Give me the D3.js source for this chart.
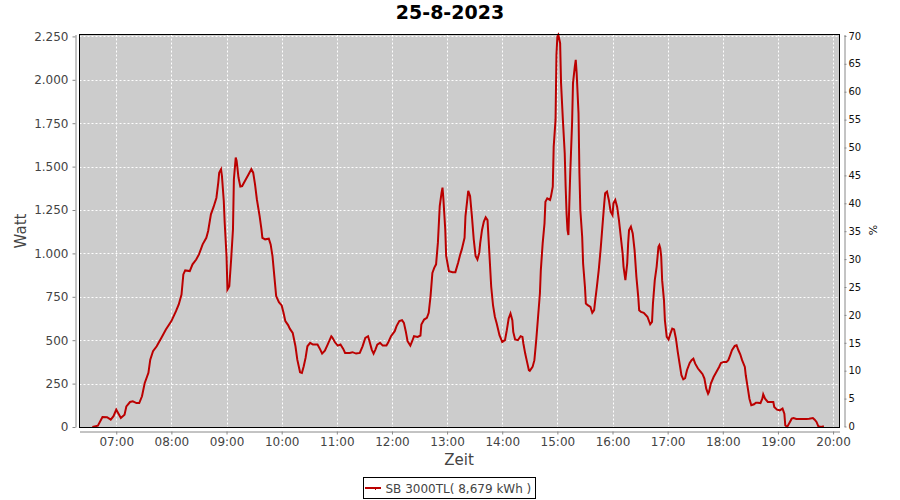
<!DOCTYPE html>
<html><head><meta charset="utf-8">
<script src="https://cdn.jsdelivr.net/npm/d3@7"></script>
<style>body{margin:0;background:#fff}svg{display:block;font-family:"DejaVu Sans",sans-serif}</style>
</head><body><svg id="c" width="900" height="500"></svg>
<script>
const title = "25-8-2023";
const seriesName = "SB 3000TL( 8,679 kWh )";
const times = ["06:34","06:40","06:45","06:50","06:54","06:57","07:00","07:02","07:05","07:09","07:11","07:15","07:18","07:22","07:25","07:28","07:31","07:35","07:37","07:40","07:44","07:49","07:54","08:00","08:05","08:08","08:11","08:13","08:15","08:20","08:23","08:27","08:30","08:34","08:38","08:40","08:43","08:46","08:49","08:51","08:52","08:54","08:55","08:57","08:58","09:00","09:01","09:03","09:05","09:07","09:08","09:10","09:11","09:13","09:15","09:17","09:20","09:23","09:27","09:29","09:31","09:33","09:36","09:38","09:39","09:42","09:46","09:48","09:50","09:52","09:54","09:57","10:00","10:02","10:04","10:07","10:09","10:12","10:15","10:17","10:20","10:22","10:24","10:26","10:28","10:31","10:34","10:36","10:39","10:42","10:44","10:47","10:50","10:54","10:55","10:58","11:01","11:04","11:07","11:09","11:14","11:17","11:21","11:25","11:28","11:31","11:34","11:36","11:38","11:40","11:42","11:44","11:47","11:50","11:54","11:56","11:59","12:03","12:05","12:08","12:11","12:13","12:15","12:17","12:20","12:22","12:24","12:28","12:31","12:32","12:35","12:38","12:40","12:42","12:44","12:46","12:48","12:50","12:52","12:54","12:55","12:56","12:58","12:59","13:02","13:06","13:09","13:12","13:14","13:16","13:19","13:20","13:22","13:23","13:25","13:27","13:29","13:31","13:33","13:35","13:36","13:38","13:40","13:42","13:44","13:46","13:48","13:50","13:52","13:54","13:57","14:00","14:03","14:05","14:07","14:09","14:11","14:12","14:14","14:17","14:20","14:22","14:23","14:25","14:27","14:29","14:30","14:33","14:35","14:37","14:39","14:41","14:42","14:44","14:46","14:47","14:49","14:52","14:53","14:55","14:56","14:58","14:59","15:00","15:01","15:03","15:04","15:06","15:08","15:09","15:10","15:11","15:12","15:13","15:14","15:16","15:17","15:19","15:20","15:21","15:23","15:24","15:25","15:27","15:28","15:30","15:31","15:33","15:36","15:38","15:40","15:41","15:43","15:45","15:47","15:49","15:51","15:52","15:54","15:56","15:58","16:00","16:01","16:03","16:05","16:07","16:09","16:11","16:12","16:14","16:16","16:17","16:18","16:20","16:22","16:24","16:26","16:28","16:29","16:31","16:34","16:38","16:41","16:43","16:44","16:46","16:48","16:50","16:51","16:52","16:53","16:54","16:56","16:57","16:59","17:01","17:03","17:05","17:07","17:09","17:11","17:13","17:15","17:17","17:19","17:21","17:24","17:26","17:28","17:30","17:33","17:36","17:38","17:40","17:42","17:44","17:45","17:47","17:50","17:53","17:56","17:58","18:01","18:04","18:06","18:08","18:10","18:13","18:15","18:17","18:19","18:21","18:24","18:25","18:27","18:29","18:31","18:34","18:36","18:38","18:41","18:43","18:44","18:46","18:49","18:52","18:55","18:56","18:59","19:02","19:05","19:07","19:08","19:10","19:12","19:15","19:17","19:20","19:24","19:27","19:31","19:34","19:38","19:40","19:42","19:44","19:47","19:50"];
const watts = [0,8,58,56,42,62,100,81,52,71,119,144,148,138,138,177,254,312,388,437,465,513,562,610,667,706,763,879,902,898,937,965,994,1052,1090,1129,1225,1269,1321,1408,1465,1485,1446,1302,1177,985,792,811,965,1138,1427,1552,1533,1437,1385,1388,1417,1446,1485,1465,1398,1312,1215,1138,1090,1081,1085,1052,985,869,754,719,700,658,610,587,565,542,465,388,315,311,350,398,465,485,475,475,475,446,423,440,475,523,517,488,469,475,450,427,427,431,423,427,465,513,523,485,446,423,446,475,485,469,469,488,523,552,581,610,615,600,552,494,469,494,523,519,527,590,619,629,658,754,888,917,937,1062,1273,1350,1379,1311,1138,985,898,892,892,946,988,1023,1090,1215,1311,1360,1331,1215,1081,985,965,1004,1058,1135,1183,1208,1192,1000,808,700,635,596,529,490,500,558,625,654,615,548,504,500,523,519,481,423,375,327,323,346,385,500,635,769,904,1058,1173,1298,1317,1308,1327,1385,1615,1769,2144,2250,2260,2211,1981,1769,1577,1385,1231,1135,1106,1288,1462,1750,1981,2077,2115,2038,1808,1462,1250,1096,942,808,711,702,692,658,673,721,808,904,1019,1154,1288,1346,1356,1308,1240,1221,1288,1308,1269,1192,1096,1000,923,846,942,1058,1135,1154,1115,1019,865,750,673,663,658,635,592,606,711,846,923,1038,1048,1029,981,846,731,615,519,504,538,567,562,510,433,365,298,275,281,327,369,385,394,365,337,317,304,279,221,192,202,250,288,317,346,369,375,375,385,413,442,467,471,442,419,385,346,298,231,163,125,131,140,140,138,163,188,163,144,144,144,115,100,96,106,77,10,0,19,48,52,46,46,46,46,48,52,42,29,4,0,4];
const yTicks = [0,250,500,750,1000,1250,1500,1750,2000,2250];
const pctTicks = [0,5,10,15,20,25,30,35,40,45,50,55,60,65,70];
const hourTicks = ["07:00","08:00","09:00","10:00","11:00","12:00","13:00","14:00","15:00","16:00","17:00","18:00","19:00","20:00"];

const parseT = d3.timeParse("%Y-%m-%d %H:%M");
const T = s => parseT("2023-08-25 " + s);
const data = times.map((t,i)=>({t:T(t), w:watts[i]}));

const svg = d3.select("#c");
const L=79.5, R=839.5, Tp=34.5, B=427.5;
const x = d3.scaleTime().domain([T("06:20"), T("20:07")]).range([L,R]);
const y = d3.scaleLinear().domain([0,2261]).range([427,Tp]);
const yp = d3.scaleLinear().domain([0,70.25]).range([426.5,Tp]);
const de = d3.formatLocale({decimal:",",thousands:".",grouping:[3],currency:["","€"]});
const fmt = de.format(",d");

svg.append("rect").attr("x",L).attr("y",Tp).attr("width",R-L).attr("height",B-Tp).attr("fill","#cccccc");

const grid = svg.append("g").attr("stroke","#ffffff").attr("stroke-width",1).attr("stroke-dasharray","2,2");
grid.selectAll("line.v").data(hourTicks).join("line")
  .attr("x1",d=>Math.round(x(T(d)))+0.5).attr("x2",d=>Math.round(x(T(d)))+0.5).attr("y1",Tp).attr("y2",B);
grid.selectAll("line.h").data(yTicks.filter(d=>d>0)).join("line")
  .attr("x1",L).attr("x2",R).attr("y1",d=>Math.round(y(d))+0.5).attr("y2",d=>Math.round(y(d))+0.5);

svg.append("defs").append("clipPath").attr("id","pc").append("rect")
  .attr("x",L).attr("y",Tp-2).attr("width",R-L).attr("height",B-Tp+3);

svg.append("path").datum(data).attr("clip-path","url(#pc)")
  .attr("fill","none").attr("stroke","#bb0000").attr("stroke-width",2).attr("stroke-linejoin","miter")
  .attr("d", d3.line().x(d=>x(d.t)).y(d=>y(d.w)));

svg.append("rect").attr("x",L).attr("y",Tp).attr("width",R-L).attr("height",B-Tp)
  .attr("fill","none").attr("stroke","#000").attr("stroke-width",1);

// left axis
const ya = svg.append("g").attr("transform","translate(75.5,0)")
  .call(d3.axisLeft(y).tickValues(yTicks).tickFormat(fmt).tickSize(3).tickSizeOuter(0).tickPadding(4));
ya.select(".domain").attr("stroke","#888");
ya.selectAll(".tick line").attr("stroke","#888");
ya.selectAll("text").attr("fill","#444").style("font-size","12px").style("font-family","DejaVu Sans");

// right axis
const yr = svg.append("g").attr("transform","translate(844.5,0)")
  .call(d3.axisRight(yp).tickValues(pctTicks).tickSize(2).tickSizeOuter(0).tickPadding(2));
yr.select(".domain").attr("stroke","#888");
yr.selectAll(".tick line").attr("stroke","#888");
yr.selectAll("text").attr("fill","#111").style("font-size","10px").style("font-family","DejaVu Sans");

// bottom axis
const xa = svg.append("g").attr("transform","translate(0,431.5)")
  .call(d3.axisBottom(x).tickValues(hourTicks.map(T)).tickFormat(d3.timeFormat("%H:%M")).tickSize(3).tickSizeOuter(0).tickPadding(3));
xa.select(".domain").attr("stroke","#888");
xa.selectAll(".tick line").attr("stroke","#888");
xa.selectAll("text").attr("fill","#444").style("font-size","12px").style("font-family","DejaVu Sans");

// titles
svg.append("text").attr("x",450).attr("y",18.5).attr("text-anchor","middle")
  .style("font-size","19px").style("font-weight","bold").attr("fill","#000").text(title);
svg.append("text").attr("x",459).attr("y",465).attr("text-anchor","middle")
  .style("font-size","15px").attr("fill","#444").text("Zeit");
svg.append("text").attr("transform","translate(25.5,231) rotate(-90)").attr("text-anchor","middle")
  .style("font-size","15px").attr("fill","#444").text("Watt");
svg.append("text").attr("transform","translate(877,230) rotate(-90)").attr("text-anchor","middle")
  .style("font-size","11px").attr("fill","#111").text("%");

// legend
const lg = svg.append("g");
lg.append("rect").attr("x",363.5).attr("y",477.5).attr("width",172).attr("height",21).attr("fill","#fff").attr("stroke","#000");
lg.append("line").attr("x1",365).attr("x2",381).attr("y1",488).attr("y2",488).attr("stroke","#bb0000").attr("stroke-width",2);
lg.append("line").attr("x1",375.5).attr("x2",375.5).attr("y1",488).attr("y2",490).attr("stroke","#bb0000").attr("stroke-width",1);
lg.append("text").attr("x",385.5).attr("y",492.5).style("font-size","12px").attr("fill","#444").text(seriesName);
</script></body></html>
